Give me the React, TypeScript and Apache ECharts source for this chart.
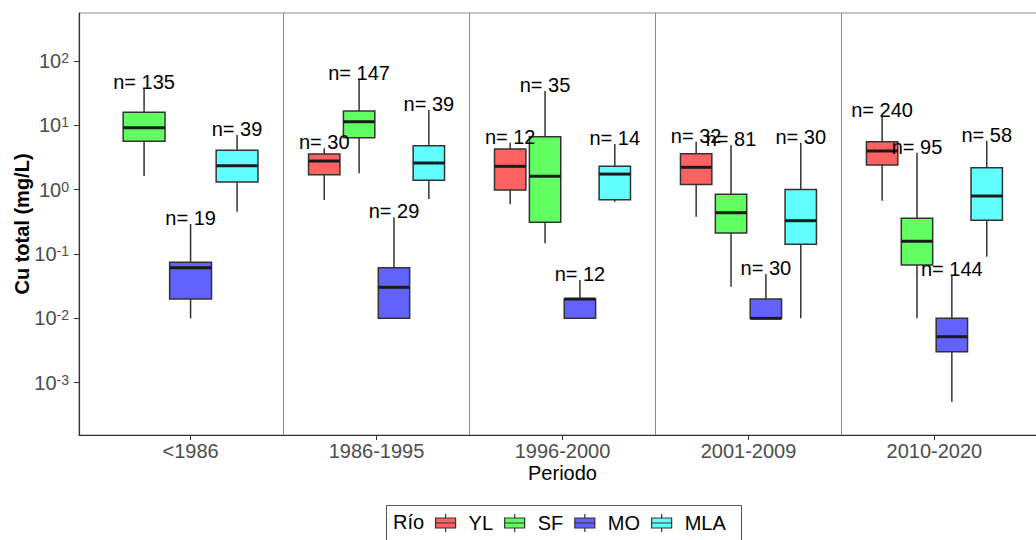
import React, { useEffect, useRef } from "react";
import * as echarts from "echarts";

const periods = ["<1986", "1986-1995", "1996-2000", "2001-2009", "2010-2020"];
const rivers = ["YL", "SF", "MO", "MLA"];
const riverColors = ["#FF6262", "#62FF62", "#6262FF", "#62FFFF"];

// [min, q1, median, q3, max] (mg/L) per period; null = no data
const ylStats = [
  null,
  [0.69, 1.71, 2.79, 3.59, 4.4],
  [0.593, 0.99, 2.31, 4.29, 5.38],
  [0.38, 1.21, 2.23, 3.63, 5.57],
  [0.675, 2.42, 4.0, 5.57, 14.0],
];
const sfStats = [
  [1.63, 5.65, 9.2, 16.0, 37.7],
  [1.8, 6.43, 11.4, 16.7, 52.6],
  [0.147, 0.311, 1.62, 6.67, 34.2],
  [0.031, 0.212, 0.439, 0.848, 4.95],
  [0.01, 0.0675, 0.158, 0.359, 3.76],
];
const moStats = [
  [0.01, 0.02, 0.0613, 0.0743, 0.293],
  [0.01, 0.01, 0.0304, 0.0613, 0.372],
  [0.01, 0.01, 0.02, 0.02, 0.0395],
  [0.01, 0.01, 0.01, 0.02, 0.049],
  [0.000506, 0.00303, 0.00519, 0.01, 0.0467],
];
const mlaStats = [
  [0.455, 1.32, 2.36, 4.1, 7.08],
  [0.717, 1.4, 2.6, 4.83, 17.3],
  [0.65, 0.7, 1.75, 2.31, 5.13],
  [0.01, 0.142, 0.33, 1.01, 5.38],
  [0.0908, 0.334, 0.798, 2.2, 5.78],
];

const ylN = [null, 30, 12, 32, 240];
const sfN = [135, 147, 35, 81, 95];
const moN = [19, 29, 12, 30, 144];
const mlaN = [39, 39, 14, 30, 58];

const yExponents = [-3, -2, -1, 0, 1, 2];

const allStats = [ylStats, sfStats, moStats, mlaStats];
const allCounts = [ylN, sfN, moN, mlaN];

const FONT = "'Liberation Sans', Arial, Helvetica, sans-serif";

function buildSeries() {
  const dodge = 0.75;
  return rivers.map((name, r) => {
    const data: any[] = [];
    periods.forEach((_, p) => {
      const st = allStats[r][p];
      if (!st) return;
      const present = rivers.map((__, k) => allStats[k][p] != null);
      const nSlots = present.filter(Boolean).length;
      const slot = present.slice(0, r).filter(Boolean).length;
      const slotW = dodge / nSlots;
      const x = p - dodge / 2 + slotW * (slot + 0.5);
      data.push([x, ...st.map((v) => Math.log10(v)), allCounts[r][p], slotW * 0.9]);
    });
    const s: any = {
      type: "custom",
      name,
      data,
      encode: { x: 0, y: [1, 2, 3, 4, 5] },
      itemStyle: { color: riverColors[r] },
      renderItem: (params: any, api: any) => {
        const x = api.value(0);
        const w = api.value(7);
        const mn = api.value(1), q1 = api.value(2), md = api.value(3), q3 = api.value(4), mx = api.value(5);
        const pMin = api.coord([x, mn]);
        const pQ1 = api.coord([x, q1]);
        const pMed = api.coord([x, md]);
        const pQ3 = api.coord([x, q3]);
        const pMax = api.coord([x, mx]);
        const xl = api.coord([x - w / 2, md])[0];
        const xr = api.coord([x + w / 2, md])[0];
        const xc = pMed[0];
        const color = api.visual("color");
        const wl = { stroke: "#333333", lineWidth: 1.5 };
        return {
          type: "group",
          children: [
            { type: "line", shape: { x1: xc, y1: pMax[1], x2: xc, y2: pQ3[1] }, style: wl },
            { type: "line", shape: { x1: xc, y1: pQ1[1], x2: xc, y2: pMin[1] }, style: wl },
            {
              type: "rect",
              shape: { x: xl, y: pQ3[1], width: xr - xl, height: pQ1[1] - pQ3[1] },
              style: { fill: color, stroke: "#333333", lineWidth: 1.5 },
            },
            {
              type: "line",
              shape: { x1: xl, y1: pMed[1], x2: xr, y2: pMed[1] },
              style: { stroke: "#1a1a1a", lineWidth: 3 },
            },
            {
              type: "text",
              z2: 100,
              style: {
                text: "n= " + api.value(6),
                x: xc,
                y: pMax[1] - 6,
                align: "center",
                verticalAlign: "middle",
                textAlign: "center",
                textVerticalAlign: "middle",
                fontSize: 20,
                fontFamily: FONT,
                fill: "#000000",
              },
            },
          ],
        };
      },
    };
    if (r === 0) {
      s.markLine = {
        silent: true,
        symbol: ["none", "none"],
        label: { show: false },
        lineStyle: { color: "#8c8c8c", width: 1, type: "solid" },
        data: [{ xAxis: 0.5 }, { xAxis: 1.5 }, { xAxis: 2.5 }, { xAxis: 3.5 }],
      };
    }
    return s;
  });
}

export default function App() {
  const ref = useRef<HTMLDivElement>(null);
  useEffect(() => {
    document.body.style.margin = "0";
    const chart = echarts.init(ref.current!, null, { renderer: "svg" });
    const option: any = {
      animation: false,
      backgroundColor: "#ffffff",
      textStyle: { fontFamily: FONT },
      grid: {
        left: 79,
        top: 13,
        width: 967,
        height: 422,
        show: true,
        borderColor: "#8c8c8c",
        borderWidth: 1,
        containLabel: false,
        outerBoundsMode: "none",
      },
      xAxis: {
        type: "value",
        min: -0.6,
        max: 4.6,
        axisLine: { show: true, onZero: false, lineStyle: { color: "#333333", width: 1.2 } },
        axisTick: { show: true, customValues: [0, 1, 2, 3, 4], length: 5, lineStyle: { color: "#333333" } },
        axisLabel: {
          customValues: [0, 1, 2, 3, 4],
          formatter: (v: number) => periods[Math.round(v)],
          fontSize: 20,
          color: "#4d4d4d",
          margin: 6,
          fontFamily: FONT,
        },
        splitLine: { show: false },
        name: "Periodo",
        nameLocation: "middle",
        nameGap: 28,
        nameMoveOverlap: false,
        nameTextStyle: { fontSize: 20, color: "#000000", fontFamily: FONT },
      },
      yAxis: {
        type: "value",
        min: -3.813,
        max: 2.747,
        axisLine: { show: true, onZero: false, lineStyle: { color: "#333333", width: 1.2 } },
        axisTick: { show: true, customValues: yExponents, length: 5, lineStyle: { color: "#333333" } },
        axisLabel: {
          customValues: yExponents,
          formatter: (v: number) => `{b|10}{s|${Math.round(v)}}`,
          margin: 10,
          rich: {
            b: { fontSize: 20, color: "#4d4d4d", lineHeight: 20, fontFamily: FONT },
            s: { fontSize: 14, color: "#4d4d4d", lineHeight: 9, verticalAlign: "top", fontFamily: FONT },
          },
        },
        splitLine: { show: false },
        name: "Cu total (mg/L)",
        nameLocation: "middle",
        nameGap: 47,
        nameMoveOverlap: false,
        nameTextStyle: { fontSize: 20, fontWeight: "bold", color: "#000000", fontFamily: FONT },
      },
      legend: {
        data: rivers,
        left: 435,
        top: 513,
        padding: 0,
        itemGap: 11,
        itemWidth: 22,
        itemHeight: 18,
        icon: "path://M10,0 L10,4 M0,4 L20,4 L20,14 L0,14 Z M0,9 L20,9 M10,14 L10,18",
        itemStyle: { borderColor: "#333333", borderWidth: 1.2 },
        textStyle: { fontSize: 20, color: "#000000", fontFamily: FONT, padding: [0, 0, 0, 7] },
        selectedMode: false,
      },
      graphic: [
        {
          type: "rect",
          left: 384,
          top: 503,
          shape: { width: 355, height: 60 },
          style: { fill: "none", stroke: "#555555", lineWidth: 1 },
          silent: true,
        },
        {
          type: "text",
          left: 393,
          top: 512,
          style: { text: "Río", fontSize: 20, fill: "#000000", fontFamily: FONT },
          silent: true,
        },
      ],
      series: buildSeries(),
    };
    chart.setOption(option);
    return () => chart.dispose();
  }, []);
  return <div ref={ref} style={{ width: 1036, height: 540 }} />;
}
